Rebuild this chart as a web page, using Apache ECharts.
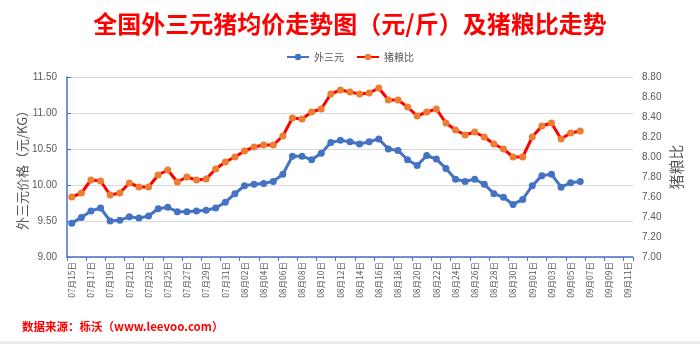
<!DOCTYPE html>
<html>
<head>
<meta charset="utf-8">
<script src="https://cdn.jsdelivr.net/npm/echarts@6/dist/echarts.min.js"></script>
<style>
  html, body { margin: 0; padding: 0; background: #fff; }
  #chart { width: 700px; height: 344px; }
</style>
</head>
<body>
<div id="chart"></div>
<script>
// Dates 07/15 .. 09/11
const dates = [
  '07月15日','07月16日','07月17日','07月18日','07月19日','07月20日','07月21日','07月22日','07月23日','07月24日',
  '07月25日','07月26日','07月27日','07月28日','07月29日','07月30日','07月31日',
  '08月01日','08月02日','08月03日','08月04日','08月05日','08月06日','08月07日','08月08日','08月09日','08月10日',
  '08月11日','08月12日','08月13日','08月14日','08月15日','08月16日','08月17日','08月18日','08月19日','08月20日',
  '08月21日','08月22日','08月23日','08月24日','08月25日','08月26日','08月27日','08月28日','08月29日','08月30日','08月31日',
  '09月01日','09月02日','09月03日','09月04日','09月05日','09月06日','09月07日','09月08日','09月09日','09月10日','09月11日'
];

// 外三元 price (元/KG), 07/15 .. 09/06
const priceWaiSanYuan = [
  9.47, 9.55, 9.64, 9.68, 9.50, 9.51, 9.56, 9.54, 9.57, 9.67,
  9.69, 9.63, 9.63, 9.64, 9.65, 9.68, 9.76,
  9.88, 9.99, 10.01, 10.02, 10.05, 10.15, 10.40, 10.40, 10.35, 10.44,
  10.59, 10.62, 10.60, 10.57, 10.60, 10.64, 10.50, 10.48, 10.35, 10.27,
  10.41, 10.36, 10.23, 10.08, 10.05, 10.08, 10.01, 9.88, 9.83, 9.73, 9.80,
  9.99, 10.13, 10.15, 9.97, 10.03, 10.05
];

// 猪粮比, 07/15 .. 09/06
const hogGrainRatio = [
  7.60, 7.64, 7.77, 7.76, 7.62, 7.64, 7.74, 7.70, 7.70, 7.82,
  7.87, 7.75, 7.80, 7.77, 7.78, 7.88, 7.95,
  8.00, 8.06, 8.10, 8.12, 8.12, 8.21, 8.39, 8.38, 8.45, 8.48,
  8.63, 8.67, 8.65, 8.63, 8.64, 8.69, 8.57, 8.57, 8.50, 8.41,
  8.45, 8.48, 8.34, 8.27, 8.22, 8.25, 8.20, 8.13, 8.08, 8.00, 8.00,
  8.20, 8.31, 8.34, 8.18, 8.24, 8.26
];

const FONT = '"Noto Sans CJK SC", "Noto Sans", sans-serif';
const NUM_FONT = '"Liberation Sans", "Noto Sans", sans-serif';
const GREY = '#595959';
const BLUE = '#4472C4';

const chart = echarts.init(document.getElementById('chart'), null, { renderer: 'canvas' });

chart.setOption({
  backgroundColor: '#ffffff',
  animation: false,
  title: {
    text: '全国外三元猪均价走势图（元/斤）及猪粮比走势',
    left: 'center',
    top: 7,
    textStyle: { color: '#FF0000', fontSize: 24, fontWeight: 'bold', fontFamily: FONT }
  },
  legend: {
    top: 47,
    left: 'center',
    itemWidth: 22,
    itemHeight: 8,
    itemGap: 12,
    textStyle: { color: GREY, fontSize: 10, fontFamily: FONT },
    data: ['外三元', '猪粮比']
  },
  grid: { left: 67, right: 67, top: 77, bottom: 87, containLabel: false },
  xAxis: {
    type: 'category',
    data: dates,
    boundaryGap: true,
    axisLine: { lineStyle: { color: BLUE, width: 1.5 } },
    axisTick: { show: true, interval: 1, length: 4, lineStyle: { color: BLUE } },
    axisLabel: {
      interval: 1,
      rotate: 90,
      color: GREY,
      fontSize: 8.5,
      fontFamily: FONT,
      margin: 5
    },
    splitLine: { show: false }
  },
  yAxis: [
    {
      type: 'value',
      min: 9,
      max: 11.5,
      interval: 0.5,
      name: '外三元价格（元/KG）',
      nameLocation: 'middle',
      nameRotate: 90,
      nameGap: 38,
      nameMoveOverlap: false,
      nameTextStyle: { color: GREY, fontSize: 13, fontFamily: FONT },
      axisLine: { show: true, lineStyle: { color: BLUE, width: 1.5 } },
      axisTick: { show: true, inside: true, length: 4, lineStyle: { color: BLUE } },
      axisLabel: {
        color: GREY, fontSize: 10, fontFamily: NUM_FONT, margin: 10,
        formatter: v => v.toFixed(2)
      },
      splitLine: { show: true, lineStyle: { color: '#d9d9d9', width: 1 } }
    },
    {
      type: 'value',
      min: 7,
      max: 8.8,
      interval: 0.2,
      name: '猪粮比',
      nameLocation: 'middle',
      nameRotate: 90,
      nameGap: 36,
      nameMoveOverlap: false,
      nameTextStyle: { color: GREY, fontSize: 15, fontFamily: FONT },
      axisLine: { show: false },
      axisTick: { show: false },
      axisLabel: {
        color: GREY, fontSize: 10, fontFamily: NUM_FONT, margin: 9,
        formatter: v => v.toFixed(2)
      },
      splitLine: { show: false }
    }
  ],
  series: [
    {
      name: '外三元',
      type: 'line',
      yAxisIndex: 0,
      data: priceWaiSanYuan,
      symbol: 'circle',
      symbolSize: 7,
      showAllSymbol: true,
      lineStyle: { color: BLUE, width: 3 },
      itemStyle: { color: BLUE },
      z: 3
    },
    {
      name: '猪粮比',
      type: 'line',
      yAxisIndex: 1,
      data: hogGrainRatio,
      symbol: 'circle',
      symbolSize: 7,
      showAllSymbol: true,
      lineStyle: { color: '#FF0000', width: 3 },
      itemStyle: { color: '#ED7D31' },
      z: 4
    }
  ],
  graphic: [
    {
      type: 'text',
      left: 22,
      top: 321,
      style: {
        text: '数据来源：栎沃（www.leevoo.com）',
        fill: '#FF0000',
        fontSize: 11.5,
        fontWeight: 'bold',
        fontFamily: FONT
      }
    },
    {
      type: 'rect',
      left: 0,
      top: 341,
      shape: { width: 700, height: 3 },
      style: { fill: '#ececec' }
    }
  ]
});
</script>
</body>
</html>
